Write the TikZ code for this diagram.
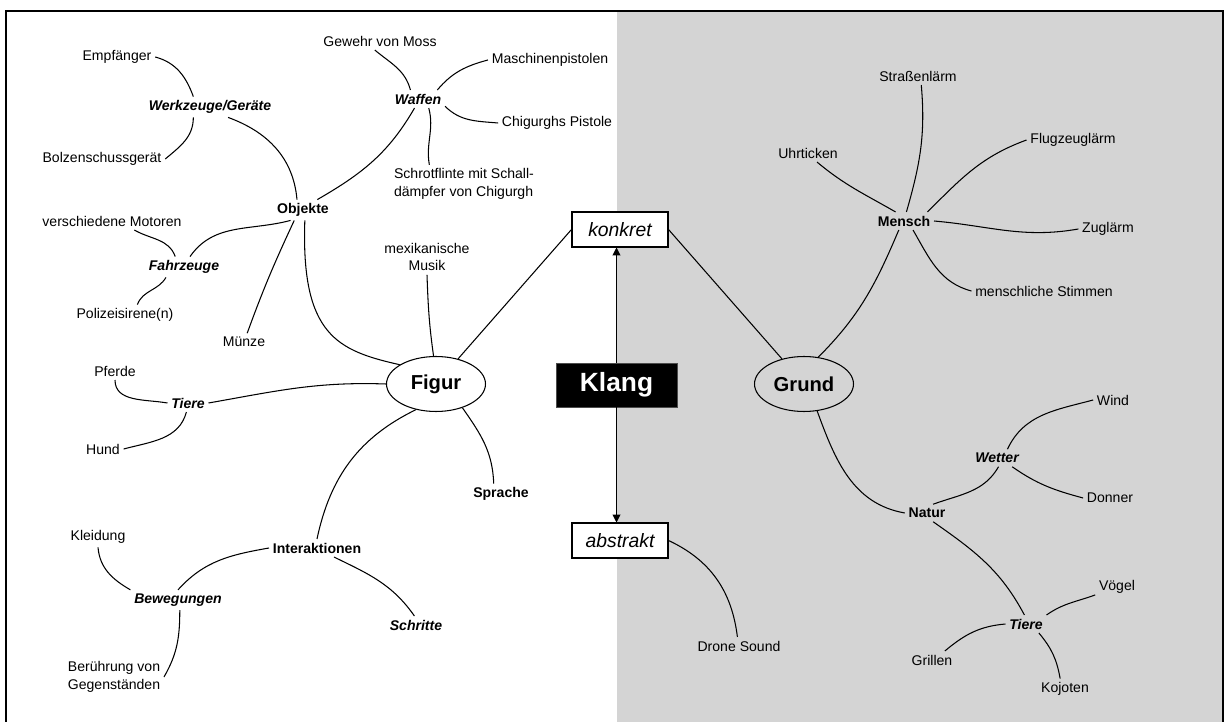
\documentclass[tikz,border=0pt]{standalone}
\usepackage{fontspec}
\setmainfont{Liberation Sans}
\usepackage{tikz}
\usetikzlibrary{arrows.meta,shapes.geometric}
\definecolor{groundgray}{RGB}{212,212,212}

\begin{document}
\begin{tikzpicture}[x=0.02cm, y=-0.02cm,
    every node/.style={inner sep=2pt, align=center},
    leaf/.style={font=\fontsize{8}{10}\selectfont},
    hub/.style={font=\fontsize{8}{10}\selectfont\bfseries},
    cat/.style={font=\fontsize{8}{10}\selectfont\bfseries\itshape},
    mainell/.style={ellipse, draw, line width=0.6pt, inner sep=0pt,
                    minimum width=1.98cm, minimum height=1.1cm,
                    font=\fontsize{11.5}{13}\selectfont\bfseries},
    polebox/.style={rectangle, draw, fill=white, line width=0.6pt,
                    minimum width=1.92cm, minimum height=0.7cm,
                    font=\fontsize{11}{13}\selectfont\itshape},
    klangbox/.style={rectangle, fill=black, draw=black!70, text=white,
                    minimum width=2.42cm, minimum height=0.88cm,
                    font=\fontsize{15}{17}\selectfont\bfseries},
    link/.style={line width=0.6pt},
    arr/.style={-{Triangle[width=4.5pt,length=4.5pt]}, line width=0.6pt}]

    \useasboundingbox (0,0) rectangle (1225,722);

    %% Background: Grund half and frame
    \fill[groundgray] (617,11) rectangle (1223,722);
    \draw[line width=1.1pt] (6,722) -- (6,11) -- (1223,11) -- (1223,722);

    %% Centre
    \node[polebox] (konkret) at (620,229.5) {konkret};
    \node[klangbox] (klang) at (616.5,385) {Klang};
    \node[polebox] (abstrakt) at (620,540.5) {abstrakt};

    %% Figur side
    \node[mainell] (figur) at (436,384) {Figur};
    \node[hub] (obj) at (303,210) {Objekte};
    \node[cat] (werkz) at (210,107) {Werkzeuge/Geräte};
    \node[leaf] (empf) at (117,57) {Empfänger};
    \node[leaf] (bolz) at (102,159) {Bolzenschussgerät};
    \node[cat] (waffen) at (418,99) {Waffen};
    \node[leaf] (gewehr) at (380,41) {Gewehr von Moss};
    \node[leaf] (maschp) at (550,60) {Maschinenpistolen};
    \node[leaf] (chig) at (557,123) {Chigurghs Pistole};
    \node[leaf, align=left] (schrot) at (464,184)
      {Schrotflinte mit Schall-\\dämpfer von Chigurgh};
    \node[cat] (fahrz) at (184,267) {Fahrzeuge};
    \node[leaf] (motor) at (112,221) {verschiedene Motoren};
    \node[leaf] (polizei) at (125,315) {Polizeisirene(n)};
    \node[leaf] (muenze) at (244,342) {Münze};
    \node[leaf] (musik) at (427,257) {mexikanische\\Musik};
    \node[cat] (tiereL) at (188,403) {Tiere};
    \node[leaf] (pferde) at (115,371) {Pferde};
    \node[leaf] (hund) at (103,449) {Hund};
    \node[hub] (sprache) at (501,494) {Sprache};
    \node[hub] (interak) at (317,548) {Interaktionen};
    \node[cat] (beweg) at (178,600) {Bewegungen};
    \node[leaf] (kleid) at (98,537) {Kleidung};
    \node[leaf, align=left] (beruehr) at (114,677) {Berührung von\\Gegenständen};
    \node[cat] (schritte) at (416,625) {Schritte};

    %% Grund side
    \node[mainell] (grund) at (804,384) {Grund};
    \node[hub] (mensch) at (904,221) {Mensch};
    \node[leaf] (strassen) at (918,76) {Straßenlärm};
    \node[leaf] (uhr) at (808,153) {Uhrticken};
    \node[leaf] (flug) at (1073,140) {Flugzeuglärm};
    \node[leaf] (zug) at (1108,229) {Zuglärm};
    \node[leaf] (stimmen) at (1044,291) {menschliche Stimmen};
    \node[hub] (natur) at (927,513) {Natur};
    \node[cat] (wetter) at (997,458) {Wetter};
    \node[leaf] (wind) at (1113,400) {Wind};
    \node[leaf] (donner) at (1110,498) {Donner};
    \node[cat] (tiereR) at (1026,624) {Tiere};
    \node[leaf] (voegel) at (1117,587) {Vögel};
    \node[leaf] (grillen) at (932,660) {Grillen};
    \node[leaf] (kojoten) at (1065,689) {Kojoten};
    \node[leaf] (drone) at (739,646) {Drone Sound};

    %% Klang arrows
    \draw[arr] (klang.north) -- (klang.north |- konkret.south);
    \draw[arr] (klang.south) -- (klang.south |- abstrakt.north);
    \draw[link] (figur) -- (konkret.west);
    \draw[link] (konkret.east) -- (grund);

    %% Figur connectors
    \draw[link] (obj.-80) .. controls +(-4,115) and +(-62,-14) .. (figur.152);
    \draw[link] (werkz.-30) to[out=-20,in=95] (obj.120);
    \draw[link] (empf.east) to[out=-15,in=110] (werkz.148);
    \draw[link] (werkz.212) to[out=-90,in=40] (bolz.east);
    \draw[link] (obj.36) to[out=30,in=240] (waffen.249);
    \draw[link] (waffen.130) to[out=105,in=-40] (gewehr.240);
    \draw[link] (waffen.25) to[out=50,in=195] (maschp.west);
    \draw[link] (waffen.-15) to[out=-45,in=175] (chig.west);
    \draw[link] (waffen.-40) to[out=-75,in=100] (schrot.151);
    \draw[link] (obj.-140) to[out=195,in=55] (fahrz.60);
    \draw[link] (fahrz.130) to[out=110,in=-30] (motor.-22);
    \draw[link] (fahrz.-150) to[out=-120,in=70] (polizei.40);
    \draw[link] (obj.-130) to[out=-115,in=70] (muenze.70);
    \draw[link] (figur.95) to[out=98,in=-88] (musik.south);
    \draw[link] (figur.west) to[out=178,in=10] (tiereL.east);
    \draw[link] (pferde.south) to[out=-90,in=170] (tiereL.west);
    \draw[link] (tiereL.-100) to[out=-105,in=15] (hund.east);
    \draw[link] (figur.-42) to[out=-55,in=92] (sprache.125);
    \draw[link] (figur.-128) to[out=206,in=78] (interak.north);
    \draw[link] (interak.west) to[out=190,in=48] (beweg.north);
    \draw[link] (interak.-28) to[out=-26,in=125] (schritte.100);
    \draw[link] (kleid.south) to[out=-85,in=150] (beweg.north west);
    \draw[link] (beweg.-80) to[out=-90,in=60] (beruehr.east);

    %% Grund connectors
    \draw[link] (grund.62) to[out=45,in=-113] (mensch.-120);
    \draw[link] (mensch.133) to[out=150,in=-40] (uhr.-45);
    \draw[link] (mensch.75) to[out=74,in=-85] (strassen.-70);
    \draw[link] (mensch.21) to[out=45,in=200] (flug.west);
    \draw[link] (mensch.east) to[out=-5,in=190] (zug.west);
    \draw[link] (mensch.-45) to[out=-60,in=165] (stimmen.west);
    \draw[link] (grund.-64) to[out=-70,in=170] (natur.west);
    \draw[link] (natur.55) to[out=20,in=-120] (wetter.-80);
    \draw[link] (wetter.40) to[out=65,in=195] (wind.west);
    \draw[link] (wetter.-30) to[out=-35,in=165] (donner.west);
    \draw[link] (natur.-55) to[out=-35,in=118] (tiereR.100);
    \draw[link] (tiereR.north east) to[out=35,in=200] (voegel.-160);
    \draw[link] (tiereR.west) to[out=185,in=40] (grillen.35);
    \draw[link] (tiereR.-35) to[out=-50,in=100] (kojoten.115);
    \draw[link] (abstrakt.east) to[out=-25,in=97] (drone.100);
\end{tikzpicture}
\end{document}
